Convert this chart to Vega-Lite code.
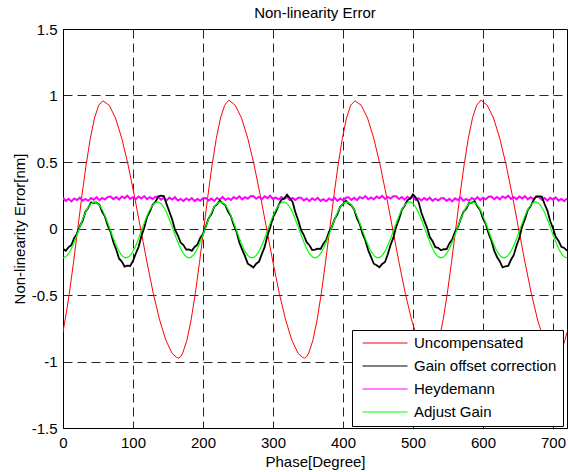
{
"$schema":"https://vega.github.io/schema/vega-lite/v6.json",
"width":504,"height":399,
"autosize":{"type":"none"},
"padding":{"left":63,"top":29,"right":1,"bottom":44},
"background":"white",
"title":{"text":"Non-linearity Error","fontSize":15,"fontWeight":"normal","font":"Liberation Sans","color":"#000","baseline":"alphabetic","offset":-11},
"datasets":{
"red":[{"x":0,"y":-0.78},{"x":3,"y":-0.687},{"x":6,"y":-0.592},{"x":9,"y":-0.488},{"x":15,"y":-0.255},{"x":21,"y":-0.005},{"x":27,"y":0.245},{"x":33,"y":0.478},{"x":39,"y":0.677},{"x":45,"y":0.831},{"x":51,"y":0.927},{"x":57,"y":0.96},{"x":66,"y":0.927},{"x":75,"y":0.831},{"x":84,"y":0.677},{"x":93,"y":0.478},{"x":102,"y":0.245},{"x":111,"y":-0.005},{"x":120,"y":-0.255},{"x":129,"y":-0.488},{"x":138,"y":-0.687},{"x":147,"y":-0.841},{"x":156,"y":-0.94},{"x":162,"y":-0.968},{"x":165,"y":-0.975},{"x":168,"y":-0.965},{"x":171,"y":-0.937},{"x":177,"y":-0.841},{"x":183,"y":-0.687},{"x":189,"y":-0.488},{"x":195,"y":-0.255},{"x":201,"y":-0.005},{"x":207,"y":0.245},{"x":213,"y":0.478},{"x":219,"y":0.677},{"x":225,"y":0.831},{"x":231,"y":0.927},{"x":237,"y":0.965},{"x":246,"y":0.927},{"x":255,"y":0.831},{"x":264,"y":0.677},{"x":273,"y":0.478},{"x":282,"y":0.245},{"x":291,"y":-0.005},{"x":300,"y":-0.255},{"x":309,"y":-0.488},{"x":318,"y":-0.687},{"x":327,"y":-0.841},{"x":336,"y":-0.94},{"x":342,"y":-0.968},{"x":345,"y":-0.975},{"x":348,"y":-0.965},{"x":351,"y":-0.937},{"x":357,"y":-0.841},{"x":363,"y":-0.687},{"x":369,"y":-0.488},{"x":375,"y":-0.255},{"x":381,"y":-0.005},{"x":387,"y":0.245},{"x":393,"y":0.478},{"x":399,"y":0.677},{"x":405,"y":0.831},{"x":411,"y":0.927},{"x":417,"y":0.96},{"x":426,"y":0.927},{"x":435,"y":0.831},{"x":444,"y":0.677},{"x":453,"y":0.478},{"x":462,"y":0.245},{"x":471,"y":-0.005},{"x":480,"y":-0.255},{"x":489,"y":-0.488},{"x":498,"y":-0.687},{"x":507,"y":-0.841},{"x":516,"y":-0.94},{"x":522,"y":-0.968},{"x":525,"y":-0.975},{"x":528,"y":-0.965},{"x":531,"y":-0.937},{"x":537,"y":-0.841},{"x":543,"y":-0.687},{"x":549,"y":-0.488},{"x":555,"y":-0.255},{"x":561,"y":-0.005},{"x":567,"y":0.245},{"x":573,"y":0.478},{"x":579,"y":0.677},{"x":585,"y":0.831},{"x":591,"y":0.927},{"x":597,"y":0.965},{"x":606,"y":0.927},{"x":615,"y":0.831},{"x":624,"y":0.677},{"x":633,"y":0.478},{"x":642,"y":0.245},{"x":651,"y":-0.005},{"x":660,"y":-0.255},{"x":669,"y":-0.488},{"x":678,"y":-0.687},{"x":687,"y":-0.841},{"x":696,"y":-0.94},{"x":702,"y":-0.968},{"x":705,"y":-0.975},{"x":708,"y":-0.965},{"x":711,"y":-0.937},{"x":717,"y":-0.841},{"x":720,"y":-0.78}],
"blk":[{"x":0,"y":-0.153},{"x":4,"y":-0.167},{"x":8,"y":-0.141},{"x":12,"y":-0.124},{"x":16,"y":-0.07},{"x":20,"y":-0.039},{"x":24,"y":0.017},{"x":28,"y":0.058},{"x":32,"y":0.124},{"x":36,"y":0.155},{"x":40,"y":0.196},{"x":44,"y":0.193},{"x":48,"y":0.196},{"x":52,"y":0.179},{"x":56,"y":0.126},{"x":60,"y":0.089},{"x":64,"y":0.022},{"x":68,"y":-0.025},{"x":72,"y":-0.104},{"x":76,"y":-0.158},{"x":80,"y":-0.225},{"x":84,"y":-0.249},{"x":88,"y":-0.286},{"x":92,"y":-0.279},{"x":96,"y":-0.282},{"x":100,"y":-0.244},{"x":104,"y":-0.188},{"x":108,"y":-0.139},{"x":112,"y":-0.056},{"x":116,"y":0.004},{"x":120,"y":0.085},{"x":124,"y":0.126},{"x":128,"y":0.177},{"x":132,"y":0.2},{"x":136,"y":0.241},{"x":140,"y":0.247},{"x":144,"y":0.244},{"x":148,"y":0.183},{"x":152,"y":0.126},{"x":156,"y":0.067},{"x":160,"y":-0.009},{"x":164,"y":-0.051},{"x":168,"y":-0.106},{"x":172,"y":-0.125},{"x":176,"y":-0.159},{"x":180,"y":-0.158},{"x":184,"y":-0.168},{"x":188,"y":-0.139},{"x":192,"y":-0.121},{"x":196,"y":-0.071},{"x":200,"y":-0.042},{"x":204,"y":0.016},{"x":208,"y":0.075},{"x":212,"y":0.109},{"x":216,"y":0.162},{"x":220,"y":0.181},{"x":224,"y":0.21},{"x":228,"y":0.191},{"x":232,"y":0.174},{"x":236,"y":0.125},{"x":240,"y":0.091},{"x":244,"y":0.025},{"x":248,"y":-0.026},{"x":252,"y":-0.107},{"x":256,"y":-0.159},{"x":260,"y":-0.208},{"x":264,"y":-0.264},{"x":268,"y":-0.279},{"x":272,"y":-0.294},{"x":276,"y":-0.265},{"x":280,"y":-0.249},{"x":284,"y":-0.193},{"x":288,"y":-0.14},{"x":292,"y":-0.054},{"x":296,"y":0.007},{"x":300,"y":0.084},{"x":304,"y":0.123},{"x":308,"y":0.176},{"x":312,"y":0.217},{"x":316,"y":0.226},{"x":320,"y":0.254},{"x":324,"y":0.229},{"x":328,"y":0.2},{"x":332,"y":0.121},{"x":336,"y":0.062},{"x":340,"y":-0.01},{"x":344,"y":-0.049},{"x":348,"y":-0.103},{"x":352,"y":-0.126},{"x":356,"y":-0.162},{"x":360,"y":-0.159},{"x":364,"y":-0.151},{"x":368,"y":-0.154},{"x":372,"y":-0.114},{"x":376,"y":-0.086},{"x":380,"y":-0.025},{"x":384,"y":0.011},{"x":388,"y":0.07},{"x":392,"y":0.108},{"x":396,"y":0.164},{"x":400,"y":0.184},{"x":404,"y":0.209},{"x":408,"y":0.188},{"x":412,"y":0.173},{"x":416,"y":0.142},{"x":420,"y":0.076},{"x":424,"y":0.032},{"x":428,"y":-0.041},{"x":432,"y":-0.09},{"x":436,"y":-0.164},{"x":440,"y":-0.213},{"x":444,"y":-0.265},{"x":448,"y":-0.277},{"x":452,"y":-0.291},{"x":456,"y":-0.266},{"x":460,"y":-0.252},{"x":464,"y":-0.194},{"x":468,"y":-0.123},{"x":472,"y":-0.069},{"x":476,"y":0.014},{"x":480,"y":0.069},{"x":484,"y":0.14},{"x":488,"y":0.171},{"x":492,"y":0.212},{"x":496,"y":0.225},{"x":500,"y":0.256},{"x":504,"y":0.232},{"x":508,"y":0.199},{"x":512,"y":0.118},{"x":516,"y":0.061},{"x":520,"y":0.007},{"x":524,"y":-0.064},{"x":528,"y":-0.096},{"x":532,"y":-0.141},{"x":536,"y":-0.145},{"x":540,"y":-0.164},{"x":544,"y":-0.156},{"x":548,"y":-0.155},{"x":552,"y":-0.112},{"x":556,"y":-0.083},{"x":560,"y":-0.026},{"x":564,"y":0.008},{"x":568,"y":0.069},{"x":572,"y":0.125},{"x":576,"y":0.149},{"x":580,"y":0.191},{"x":584,"y":0.194},{"x":588,"y":0.205},{"x":592,"y":0.168},{"x":596,"y":0.137},{"x":600,"y":0.075},{"x":604,"y":0.034},{"x":608,"y":-0.038},{"x":612,"y":-0.091},{"x":616,"y":-0.167},{"x":620,"y":-0.214},{"x":624,"y":-0.248},{"x":628,"y":-0.292},{"x":632,"y":-0.284},{"x":636,"y":-0.281},{"x":640,"y":-0.235},{"x":644,"y":-0.199},{"x":648,"y":-0.128},{"x":652,"y":-0.07},{"x":656,"y":0.016},{"x":660,"y":0.072},{"x":664,"y":0.139},{"x":668,"y":0.168},{"x":672,"y":0.211},{"x":676,"y":0.242},{"x":680,"y":0.241},{"x":684,"y":0.239},{"x":688,"y":0.184},{"x":692,"y":0.135},{"x":696,"y":0.056},{"x":700,"y":0.002},{"x":704,"y":-0.065},{"x":708,"y":-0.094},{"x":712,"y":-0.138},{"x":716,"y":-0.146},{"x":720,"y":-0.167}],
"mag":[{"x":0,"y":0.229},{"x":4,"y":0.208},{"x":8,"y":0.223},{"x":12,"y":0.204},{"x":16,"y":0.226},{"x":20,"y":0.214},{"x":24,"y":0.232},{"x":28,"y":0.209},{"x":32,"y":0.222},{"x":36,"y":0.208},{"x":40,"y":0.229},{"x":44,"y":0.216},{"x":48,"y":0.235},{"x":52,"y":0.213},{"x":56,"y":0.23},{"x":60,"y":0.218},{"x":64,"y":0.238},{"x":68,"y":0.24},{"x":72,"y":0.221},{"x":76,"y":0.236},{"x":80,"y":0.218},{"x":84,"y":0.241},{"x":88,"y":0.228},{"x":92,"y":0.247},{"x":96,"y":0.223},{"x":100,"y":0.236},{"x":104,"y":0.221},{"x":108,"y":0.241},{"x":112,"y":0.226},{"x":116,"y":0.244},{"x":120,"y":0.22},{"x":124,"y":0.235},{"x":128,"y":0.222},{"x":132,"y":0.239},{"x":136,"y":0.239},{"x":140,"y":0.217},{"x":144,"y":0.231},{"x":148,"y":0.211},{"x":152,"y":0.232},{"x":156,"y":0.218},{"x":160,"y":0.235},{"x":164,"y":0.21},{"x":168,"y":0.222},{"x":172,"y":0.207},{"x":176,"y":0.226},{"x":180,"y":0.212},{"x":184,"y":0.229},{"x":188,"y":0.206},{"x":192,"y":0.222},{"x":196,"y":0.209},{"x":200,"y":0.228},{"x":204,"y":0.229},{"x":208,"y":0.21},{"x":212,"y":0.225},{"x":216,"y":0.207},{"x":220,"y":0.23},{"x":224,"y":0.218},{"x":228,"y":0.237},{"x":232,"y":0.214},{"x":236,"y":0.228},{"x":240,"y":0.214},{"x":244,"y":0.236},{"x":248,"y":0.223},{"x":252,"y":0.242},{"x":256,"y":0.219},{"x":260,"y":0.236},{"x":264,"y":0.224},{"x":268,"y":0.242},{"x":272,"y":0.244},{"x":276,"y":0.224},{"x":280,"y":0.239},{"x":284,"y":0.22},{"x":288,"y":0.242},{"x":292,"y":0.228},{"x":296,"y":0.246},{"x":300,"y":0.221},{"x":304,"y":0.233},{"x":308,"y":0.218},{"x":312,"y":0.237},{"x":316,"y":0.222},{"x":320,"y":0.238},{"x":324,"y":0.214},{"x":328,"y":0.229},{"x":332,"y":0.215},{"x":336,"y":0.232},{"x":340,"y":0.232},{"x":344,"y":0.211},{"x":348,"y":0.225},{"x":352,"y":0.206},{"x":356,"y":0.227},{"x":360,"y":0.214},{"x":364,"y":0.231},{"x":368,"y":0.207},{"x":372,"y":0.22},{"x":376,"y":0.205},{"x":380,"y":0.226},{"x":384,"y":0.212},{"x":388,"y":0.231},{"x":392,"y":0.208},{"x":396,"y":0.225},{"x":400,"y":0.213},{"x":404,"y":0.232},{"x":408,"y":0.234},{"x":412,"y":0.215},{"x":416,"y":0.231},{"x":420,"y":0.213},{"x":424,"y":0.237},{"x":428,"y":0.225},{"x":432,"y":0.244},{"x":436,"y":0.22},{"x":440,"y":0.234},{"x":444,"y":0.22},{"x":448,"y":0.24},{"x":452,"y":0.227},{"x":456,"y":0.245},{"x":460,"y":0.222},{"x":464,"y":0.238},{"x":468,"y":0.225},{"x":472,"y":0.242},{"x":476,"y":0.243},{"x":480,"y":0.222},{"x":484,"y":0.236},{"x":488,"y":0.217},{"x":492,"y":0.238},{"x":496,"y":0.224},{"x":500,"y":0.24},{"x":504,"y":0.215},{"x":508,"y":0.227},{"x":512,"y":0.211},{"x":516,"y":0.23},{"x":520,"y":0.215},{"x":524,"y":0.232},{"x":528,"y":0.208},{"x":532,"y":0.224},{"x":536,"y":0.21},{"x":540,"y":0.228},{"x":544,"y":0.228},{"x":548,"y":0.208},{"x":552,"y":0.223},{"x":556,"y":0.204},{"x":560,"y":0.227},{"x":564,"y":0.214},{"x":568,"y":0.233},{"x":572,"y":0.209},{"x":576,"y":0.223},{"x":580,"y":0.209},{"x":584,"y":0.23},{"x":588,"y":0.217},{"x":592,"y":0.236},{"x":596,"y":0.214},{"x":600,"y":0.231},{"x":604,"y":0.22},{"x":608,"y":0.239},{"x":612,"y":0.241},{"x":616,"y":0.221},{"x":620,"y":0.237},{"x":624,"y":0.219},{"x":628,"y":0.241},{"x":632,"y":0.229},{"x":636,"y":0.247},{"x":640,"y":0.223},{"x":644,"y":0.236},{"x":648,"y":0.221},{"x":652,"y":0.24},{"x":656,"y":0.226},{"x":660,"y":0.243},{"x":664,"y":0.219},{"x":668,"y":0.235},{"x":672,"y":0.221},{"x":676,"y":0.238},{"x":680,"y":0.237},{"x":684,"y":0.216},{"x":688,"y":0.23},{"x":692,"y":0.21},{"x":696,"y":0.231},{"x":700,"y":0.217},{"x":704,"y":0.234},{"x":708,"y":0.209},{"x":712,"y":0.222},{"x":716,"y":0.206},{"x":720,"y":0.226}],
"grn":[{"x":0,"y":-0.22},{"x":3,"y":-0.215},{"x":6,"y":-0.202},{"x":9,"y":-0.18},{"x":12,"y":-0.151},{"x":15,"y":-0.115},{"x":18,"y":-0.075},{"x":21,"y":-0.032},{"x":24,"y":0.012},{"x":27,"y":0.055},{"x":30,"y":0.095},{"x":33,"y":0.131},{"x":36,"y":0.16},{"x":39,"y":0.182},{"x":42,"y":0.195},{"x":45,"y":0.2},{"x":48,"y":0.195},{"x":51,"y":0.182},{"x":54,"y":0.16},{"x":57,"y":0.131},{"x":60,"y":0.095},{"x":63,"y":0.055},{"x":66,"y":0.012},{"x":69,"y":-0.032},{"x":72,"y":-0.075},{"x":75,"y":-0.115},{"x":78,"y":-0.151},{"x":81,"y":-0.18},{"x":84,"y":-0.202},{"x":87,"y":-0.215},
{"x":90,"y":-0.22},{"x":93,"y":-0.215},{"x":96,"y":-0.202},{"x":99,"y":-0.18},{"x":102,"y":-0.151},{"x":105,"y":-0.115},{"x":108,"y":-0.075},{"x":111,"y":-0.032},{"x":114,"y":0.012},{"x":117,"y":0.055},{"x":120,"y":0.095},{"x":123,"y":0.131},{"x":126,"y":0.16},{"x":129,"y":0.182},{"x":132,"y":0.195},{"x":135,"y":0.2},{"x":138,"y":0.195},{"x":141,"y":0.182},{"x":144,"y":0.16},{"x":147,"y":0.131},{"x":150,"y":0.095},{"x":153,"y":0.055},{"x":156,"y":0.012},{"x":159,"y":-0.032},{"x":162,"y":-0.075},{"x":165,"y":-0.115},{"x":168,"y":-0.151},{"x":171,"y":-0.18},{"x":174,"y":-0.202},{"x":177,"y":-0.215},
{"x":180,"y":-0.22},{"x":183,"y":-0.215},{"x":186,"y":-0.202},{"x":189,"y":-0.18},{"x":192,"y":-0.151},{"x":195,"y":-0.115},{"x":198,"y":-0.075},{"x":201,"y":-0.032},{"x":204,"y":0.012},{"x":207,"y":0.055},{"x":210,"y":0.095},{"x":213,"y":0.131},{"x":216,"y":0.16},{"x":219,"y":0.182},{"x":222,"y":0.195},{"x":225,"y":0.2},{"x":228,"y":0.195},{"x":231,"y":0.182},{"x":234,"y":0.16},{"x":237,"y":0.131},{"x":240,"y":0.095},{"x":243,"y":0.055},{"x":246,"y":0.012},{"x":249,"y":-0.032},{"x":252,"y":-0.075},{"x":255,"y":-0.115},{"x":258,"y":-0.151},{"x":261,"y":-0.18},{"x":264,"y":-0.202},{"x":267,"y":-0.215},
{"x":270,"y":-0.22},{"x":273,"y":-0.215},{"x":276,"y":-0.202},{"x":279,"y":-0.18},{"x":282,"y":-0.151},{"x":285,"y":-0.115},{"x":288,"y":-0.075},{"x":291,"y":-0.032},{"x":294,"y":0.012},{"x":297,"y":0.055},{"x":300,"y":0.095},{"x":303,"y":0.131},{"x":306,"y":0.16},{"x":309,"y":0.182},{"x":312,"y":0.195},{"x":315,"y":0.2},{"x":318,"y":0.195},{"x":321,"y":0.182},{"x":324,"y":0.16},{"x":327,"y":0.131},{"x":330,"y":0.095},{"x":333,"y":0.055},{"x":336,"y":0.012},{"x":339,"y":-0.032},{"x":342,"y":-0.075},{"x":345,"y":-0.115},{"x":348,"y":-0.151},{"x":351,"y":-0.18},{"x":354,"y":-0.202},{"x":357,"y":-0.215},
{"x":360,"y":-0.22},{"x":363,"y":-0.215},{"x":366,"y":-0.202},{"x":369,"y":-0.18},{"x":372,"y":-0.151},{"x":375,"y":-0.115},{"x":378,"y":-0.075},{"x":381,"y":-0.032},{"x":384,"y":0.012},{"x":387,"y":0.055},{"x":390,"y":0.095},{"x":393,"y":0.131},{"x":396,"y":0.16},{"x":399,"y":0.182},{"x":402,"y":0.195},{"x":405,"y":0.2},{"x":408,"y":0.195},{"x":411,"y":0.182},{"x":414,"y":0.16},{"x":417,"y":0.131},{"x":420,"y":0.095},{"x":423,"y":0.055},{"x":426,"y":0.012},{"x":429,"y":-0.032},{"x":432,"y":-0.075},{"x":435,"y":-0.115},{"x":438,"y":-0.151},{"x":441,"y":-0.18},{"x":444,"y":-0.202},{"x":447,"y":-0.215},
{"x":450,"y":-0.22},{"x":453,"y":-0.215},{"x":456,"y":-0.202},{"x":459,"y":-0.18},{"x":462,"y":-0.151},{"x":465,"y":-0.115},{"x":468,"y":-0.075},{"x":471,"y":-0.032},{"x":474,"y":0.012},{"x":477,"y":0.055},{"x":480,"y":0.095},{"x":483,"y":0.131},{"x":486,"y":0.16},{"x":489,"y":0.182},{"x":492,"y":0.195},{"x":495,"y":0.2},{"x":498,"y":0.195},{"x":501,"y":0.182},{"x":504,"y":0.16},{"x":507,"y":0.131},{"x":510,"y":0.095},{"x":513,"y":0.055},{"x":516,"y":0.012},{"x":519,"y":-0.032},{"x":522,"y":-0.075},{"x":525,"y":-0.115},{"x":528,"y":-0.151},{"x":531,"y":-0.18},{"x":534,"y":-0.202},{"x":537,"y":-0.215},
{"x":540,"y":-0.22},{"x":543,"y":-0.215},{"x":546,"y":-0.202},{"x":549,"y":-0.18},{"x":552,"y":-0.151},{"x":555,"y":-0.115},{"x":558,"y":-0.075},{"x":561,"y":-0.032},{"x":564,"y":0.012},{"x":567,"y":0.055},{"x":570,"y":0.095},{"x":573,"y":0.131},{"x":576,"y":0.16},{"x":579,"y":0.182},{"x":582,"y":0.195},{"x":585,"y":0.2},{"x":588,"y":0.195},{"x":591,"y":0.182},{"x":594,"y":0.16},{"x":597,"y":0.131},{"x":600,"y":0.095},{"x":603,"y":0.055},{"x":606,"y":0.012},{"x":609,"y":-0.032},{"x":612,"y":-0.075},{"x":615,"y":-0.115},{"x":618,"y":-0.151},{"x":621,"y":-0.18},{"x":624,"y":-0.202},{"x":627,"y":-0.215},
{"x":630,"y":-0.22},{"x":633,"y":-0.215},{"x":636,"y":-0.202},{"x":639,"y":-0.18},{"x":642,"y":-0.151},{"x":645,"y":-0.115},{"x":648,"y":-0.075},{"x":651,"y":-0.032},{"x":654,"y":0.012},{"x":657,"y":0.055},{"x":660,"y":0.095},{"x":663,"y":0.131},{"x":666,"y":0.16},{"x":669,"y":0.182},{"x":672,"y":0.195},{"x":675,"y":0.2},{"x":678,"y":0.195},{"x":681,"y":0.182},{"x":684,"y":0.16},{"x":687,"y":0.131},{"x":690,"y":0.095},{"x":693,"y":0.055},{"x":696,"y":0.012},{"x":699,"y":-0.032},{"x":702,"y":-0.075},{"x":705,"y":-0.115},{"x":708,"y":-0.151},{"x":711,"y":-0.18},{"x":714,"y":-0.202},{"x":717,"y":-0.215},{"x":720,"y":-0.22}]
},
"encoding":{
"x":{"field":"x","type":"quantitative","scale":{"domain":[0,720],"nice":false,"zero":false},
"axis":{"title":"Phase[Degree]","values":[0,100,200,300,400,500,600,700],"labelPadding":7,"titlePadding":4,"ticks":false,"tickSize":0,"labelFlush":false,"labelOverlap":false}},
"y":{"field":"y","type":"quantitative","scale":{"domain":[-1.5,1.5],"nice":false,"zero":false},
"axis":{"title":"Non-linearity Error[nm]","values":[-1.5,-1,-0.5,0,0.5,1,1.5],"labelExpr":"''+datum.value","labelPadding":6,"titlePadding":4,"ticks":false,"tickSize":0,"labelFlush":false,"labelOverlap":false}}
},
"layer":[
{"data":{"name":"red"},"mark":{"type":"line","strokeWidth":1,"clip":true},
 "encoding":{"color":{"datum":"Uncompensated","type":"nominal","scale":{"domain":["Uncompensated","Gain offset correction","Heydemann","Adjust Gain"],"range":["#ff0000","#000000","#ff00ff","#00ff00"]},
 "legend":{"orient":"none","legendX":289,"legendY":301,"title":null,"symbolType":"stroke","symbolSize":2025,"symbolStrokeWidth":1,"clipHeight":14,"rowPadding":8,"padding":6,"symbolOffset":4,"labelOffset":6,"labelFontSize":15,"labelFont":"Liberation Sans","labelColor":"#000","strokeColor":"#000","fillColor":"#fff","labelLimit":300}}}},
{"data":{"name":"mag"},"mark":{"type":"line","strokeWidth":2,"clip":true},"encoding":{"color":{"datum":"Heydemann","type":"nominal"}}},
{"data":{"name":"blk"},"mark":{"type":"line","strokeWidth":1.8,"clip":true},"encoding":{"color":{"datum":"Gain offset correction","type":"nominal"}}},
{"data":{"name":"grn"},"mark":{"type":"line","strokeWidth":1.2,"clip":true},"encoding":{"color":{"datum":"Adjust Gain","type":"nominal"}}}
],
"config":{
"font":"Liberation Sans",
"view":{"stroke":"#000","strokeWidth":1},
"axis":{"domainColor":"#000","domainWidth":1,"grid":true,"gridColor":"#000","gridDash":[9,5],"gridWidth":1,"gridOpacity":0.85,"labelColor":"#000","titleColor":"#000","labelFontSize":15,"titleFontSize":15,"titleFontWeight":"normal","labelFont":"Liberation Sans","titleFont":"Liberation Sans"}
}
}
